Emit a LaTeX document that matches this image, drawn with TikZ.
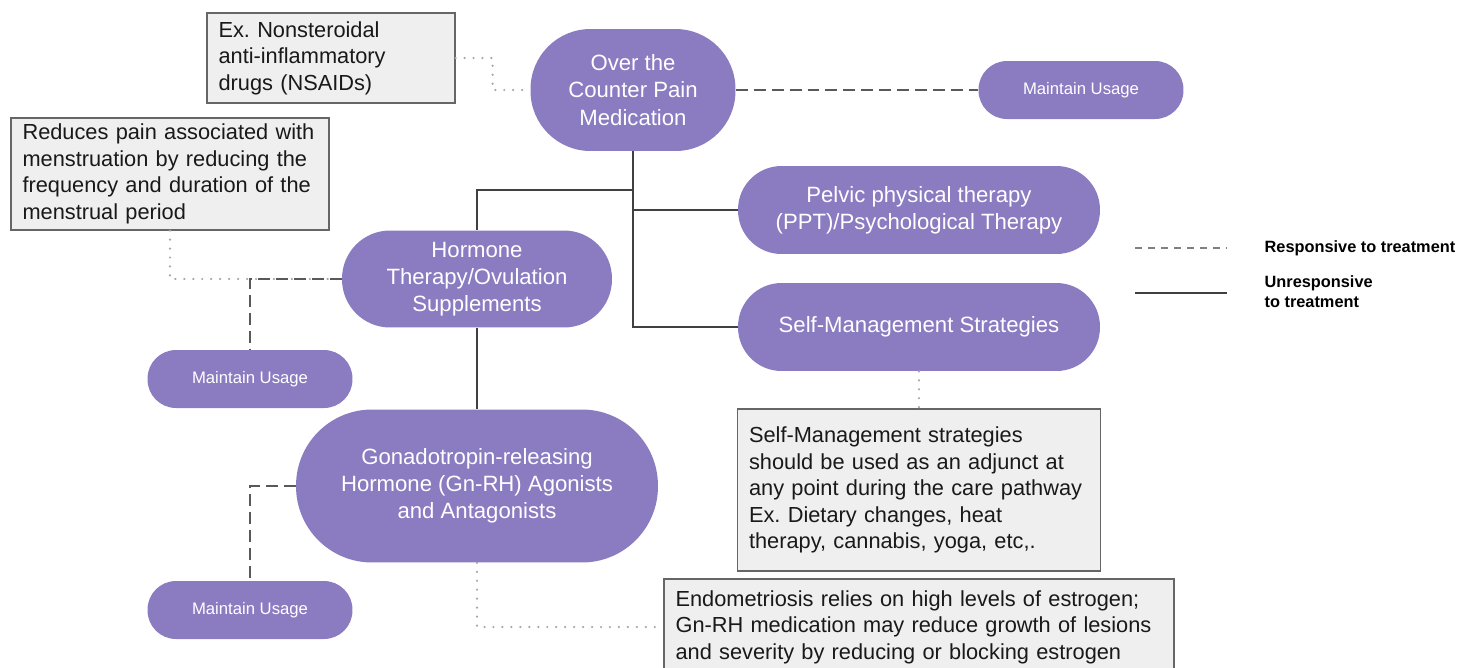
\documentclass[tikz,border=0pt]{standalone}
\usepackage{fontspec}
\setmainfont{Liberation Sans}
\usepackage{xcolor}
\definecolor{mainpurple}{RGB}{139,123,193}
\definecolor{notegray}{RGB}{239,239,239}
\usetikzlibrary{positioning}
\frenchspacing

\begin{document}
\begin{tikzpicture}[x=0.02cm, y=-0.02cm,
    pill/.style={rectangle, rounded corners=#1, fill=mainpurple, text=white, inner sep=0pt, align=center, font=\fontsize{12.6}{15.5}\selectfont},
    usage/.style={pill=0.57cm, minimum width=4.1cm, minimum height=1.16cm, font=\fontsize{9.5}{11}\selectfont},
    note/.style={draw=black!60, fill=notegray, line width=0.7pt, inner xsep=0.23cm, inner ysep=0pt, align=left, text width=#1, text=black!90, font=\fontsize{12.4}{15.1}\selectfont},
    key/.style={inner sep=3pt, align=left, font=\bfseries\fontsize{9.3}{11.3}\selectfont},
    tree/.style={draw=black!75, line width=1.1pt},
    resp/.style={draw=black!65, line width=1.3pt, dash pattern=on 6.8pt off 3.4pt},
    link/.style={draw=black!35, line width=1.4pt, line cap=round, dash pattern=on 0pt off 5.1pt}]
\path[use as bounding box, clip] (0,0) rectangle (1458,667);

\node[pill=1.2cm, minimum width=4.1cm, minimum height=2.44cm] (otc) at (633,90) {Over the\\Counter Pain\\Medication};
\node[usage] (usage1) at (1081,90) {Maintain Usage};
\node[pill=0.87cm, minimum width=7.24cm, minimum height=1.76cm] (ppt) at (919,210) {Pelvic physical therapy\\(PPT)/Psychological Therapy};
\node[pill=0.87cm, minimum width=7.24cm, minimum height=1.76cm] (selfman) at (919,327) {Self-Management Strategies};
\node[pill=0.96cm, minimum width=5.4cm, minimum height=1.94cm] (hormone) at (477,279) {Hormone\\Therapy/Ovulation\\Supplements};
\node[usage] (usage2) at (250,379) {Maintain Usage};
\node[pill=1.52cm, minimum width=7.24cm, minimum height=3.06cm] (gnrh) at (477,486) {Gonadotropin-releasing\\Hormone (Gn-RH) Agonists\\and Antagonists};
\node[usage] (usage3) at (250,610) {Maintain Usage};

\node[note=4.5cm, minimum height=1.8cm] (nsaid) at (331,58) {Ex. Nonsteroidal\\anti-inflammatory\\drugs (NSAIDs)};
\node[note=5.9cm, minimum height=2.24cm] (menses) at (170,174) {Reduces pain associated with\\menstruation by reducing the\\frequency and duration of the\\menstrual period};
\node[note=6.8cm, minimum height=3.24cm] (selfnote) at (919,490) {Self-Management strategies\\should be used as an adjunct at\\any point during the care pathway\\Ex. Dietary changes, heat\\therapy, cannabis, yoga, etc,.};
\node[note=9.74cm, minimum height=1.92cm] (estrogen) at (919,627) {Endometriosis relies on high levels of estrogen;\\Gn-RH medication may reduce growth of lesions\\and severity by reducing or blocking estrogen};

\coordinate (dashA) at (1135,248);
\coordinate (dashB) at (1227,248);
\coordinate (lineA) at (1135,293);
\coordinate (lineB) at (1227,293);
\node[key, anchor=west] (respkey) at (1259,248) {Responsive to treatment};
\node[key, anchor=west] (unrespkey) at (1259,292) {Unresponsive\\to treatment};

\draw[tree] (otc.south) |- (selfman.west);
\draw[tree] (otc.south |- ppt.west) -- (ppt.west);
\draw[tree] (otc.south) -- ++(0,39) -| (hormone.north);
\draw[tree] (hormone) -- (gnrh);
\draw[link] (nsaid.east) -- ++(37,0) |- (otc.west);
\draw[link] (menses.south) |- (hormone.west);
\draw[link] (selfman) -- (selfnote);
\draw[link] (gnrh.south) |- (estrogen.west);
\draw[resp] (otc) -- (usage1);
\draw[resp] (hormone.west) -| (usage2.north);
\draw[resp] (gnrh.west) -| (usage3.north);
\draw[resp, draw=black!50, line width=0.8pt, dash pattern=on 4pt off 3.4pt] (dashA) -- (dashB);
\draw[tree] (lineA) -- (lineB);
\end{tikzpicture}
\end{document}
